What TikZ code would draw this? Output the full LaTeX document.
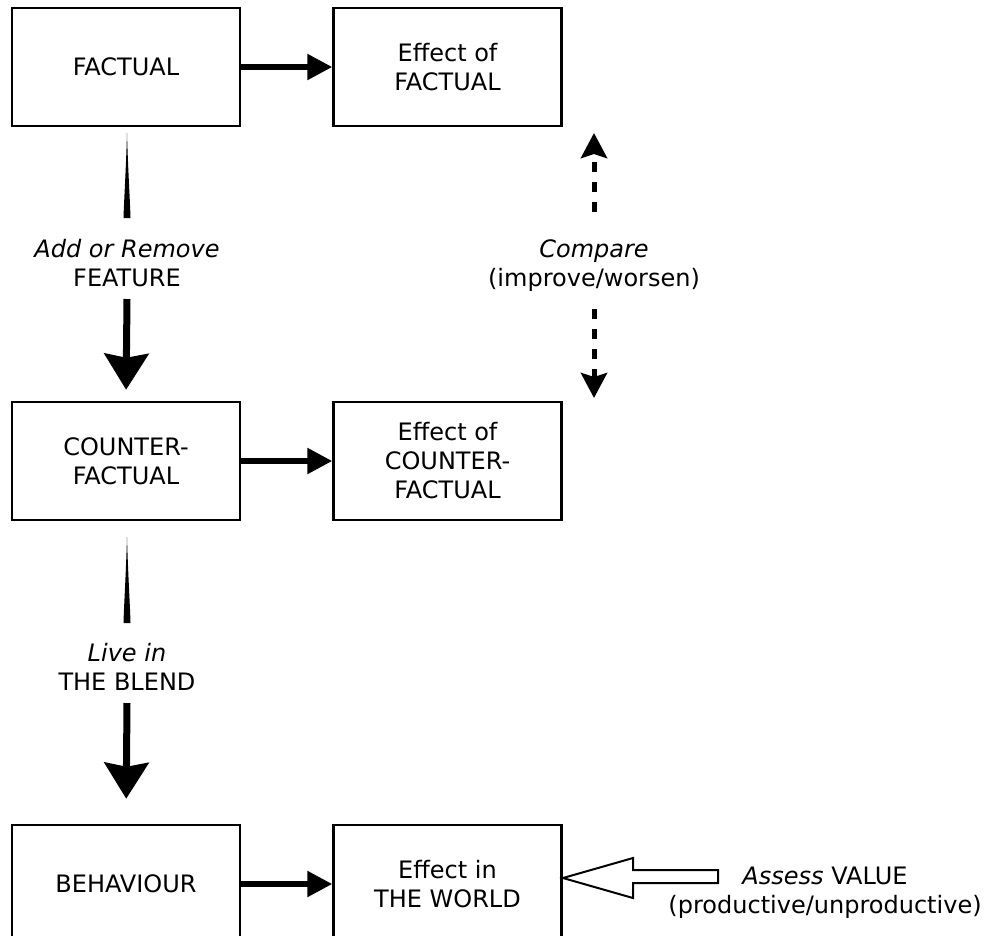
\documentclass[tikz,border=0pt]{standalone}
\usepackage{fontspec}
\setmainfont{DejaVu Sans}
\usetikzlibrary{arrows.meta}
\tikzstyle{box}=[draw, rectangle, line width=2.5pt, minimum width=228pt, minimum height=118pt, align=center, inner sep=0pt]
\tikzstyle{lbl}=[align=center, inner sep=0pt]
\tikzstyle{link}=[line width=5.5pt, -{Triangle[length=25pt, width=25pt]}]
\tikzstyle{bigarrow}=[line width=7pt, -{Stealth[length=36pt, width=44pt, inset=4pt]}]
\tikzstyle{cmparrow}=[line width=5pt, dash pattern=on 10pt off 10pt, -{Stealth[length=25pt, width=26pt, inset=4pt]}]
\tikzstyle{hollow}=[draw, line width=2pt, fill=white, line join=miter]

\begin{document}
\begin{tikzpicture}[x=1pt, y=-1pt, font=\fontsize{24}{29}\selectfont]
        \path[use as bounding box, clip] (0,0) rectangle (987,935);
        % boxes
        \node[box] (fact) at (126,67) {FACTUAL};
        \node[box] (efact) at (447.5,67) {Effect of\\FACTUAL};
        \node[box] (cf) at (126,461) {COUNTER-\\FACTUAL};
        \node[box] (ecf) at (447.5,461) {Effect of\\COUNTER-\\FACTUAL};
        \node[box] (beh) at (126,884) {BEHAVIOUR};
        \node[box] (ew) at (447.5,884) {Effect in\\THE WORLD};
        \draw[link] (fact) -- (efact);
        \draw[link] (cf) -- (ecf);
        \draw[link] (beh) -- (ew);
        % add or remove
        \node[lbl] (add) at (127,263) {\textit{Add or Remove}\\FEATURE};
        \coordinate (t1) at (127,133); \coordinate (s1) at (127,299);
        \fill (t1) .. controls (128,170) and (130,200) .. (130.5,218) -- (123.5,218) .. controls (124,200) and (126,170) .. (t1);
        \draw[bigarrow, shorten >=11pt] (s1) -- (cf.north);
        % live in the blend
        \node[lbl] (live) at (127,667) {\textit{Live in}\\THE BLEND};
        \coordinate (t2) at (127,537); \coordinate (s2) at (127,703);
        \fill (t2) .. controls (128,574) and (130,604) .. (130.5,623) -- (123.5,623) .. controls (124,604) and (126,574) .. (t2);
        \draw[bigarrow, shorten >=25pt] (s2) -- (beh.north);
        % compare
        \node[lbl] (cmp) at (594,266) {\textit{Compare}\\(improve/worsen)};
        \coordinate (c1) at (594,212); \coordinate (ctop) at (594,133);
        \coordinate (c2) at (594,309); \coordinate (cbot) at (594,398);
        \draw[cmparrow] (c1) -- (ctop);
        \draw[cmparrow] (c2) -- (cbot);
        % assess
        \coordinate (atip) at (563,878);
        \path[hollow] (atip) -- ++(70,-20) -- ++(0,12) -- ++(85,0) -- ++(0,13) -- ++(-85,0) -- ++(0,15) -- cycle;
        \node[lbl] (assess) at (825,893) {\textit{Assess} VALUE\\(productive/unproductive)};
    \end{tikzpicture}
\end{document}
